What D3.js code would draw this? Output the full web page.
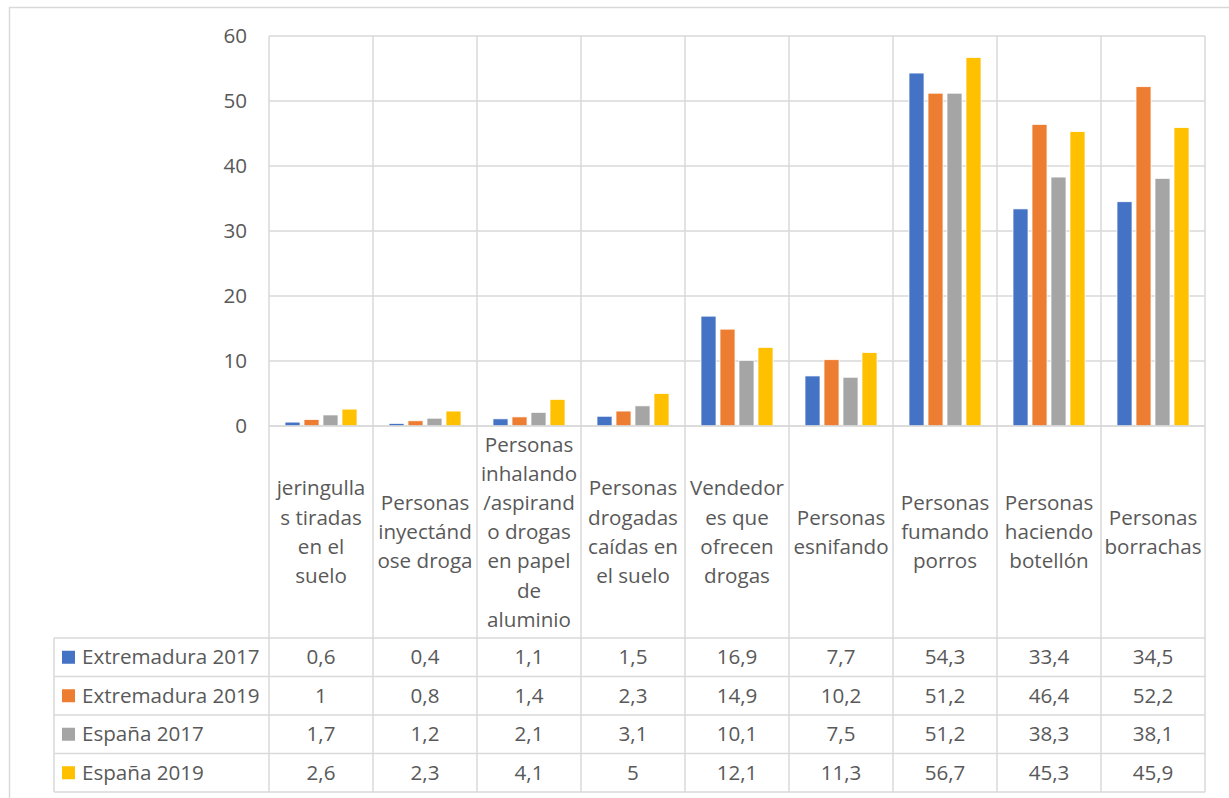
<!DOCTYPE html>
<html>
<head>
<meta charset="utf-8">
<script src="https://cdn.jsdelivr.net/npm/d3@7"></script>
<style>
  body { margin: 0; background: #fff; }
  svg { display: block; font-family: 'Open Sans', 'Noto Sans', sans-serif; }
</style>
</head>
<body>
<svg id="chart" width="1229" height="798"></svg>
<script>
// categories, as wrapped in the reference table header
const categoryLines = [
    ['jeringulla', 's tiradas', 'en el', 'suelo'],
    ['Personas', 'inyectánd', 'ose droga'],
    ['Personas', 'inhalando', '/aspirand', 'o drogas', 'en papel', 'de', 'aluminio'],
    ['Personas', 'drogadas', 'caídas en', 'el suelo'],
    ['Vendedor', 'es que', 'ofrecen', 'drogas'],
    ['Personas', 'esnifando'],
    ['Personas', 'fumando', 'porros'],
    ['Personas', 'haciendo', 'botellón'],
    ['Personas', 'borrachas']
]
const seriesNames = ['Extremadura 2017', 'Extremadura 2019', 'España 2017', 'España 2019']
const seriesColors = ['#4472C4', '#ED7D31', '#A5A5A5', '#FFC000']

const extremadura2017 = [0.6, 0.4, 1.1, 1.5, 16.9, 7.7, 54.3, 33.4, 34.5]
const extremadura2019 = [1, 0.8, 1.4, 2.3, 14.9, 10.2, 51.2, 46.4, 52.2]
const espana2017 = [1.7, 1.2, 2.1, 3.1, 10.1, 7.5, 51.2, 38.3, 38.1]
const espana2019 = [2.6, 2.3, 4.1, 5, 12.1, 11.3, 56.7, 45.3, 45.9]

const yTicks = [0, 10, 20, 30, 40, 50, 60]

const seriesValues = [extremadura2017, extremadura2019, espana2017, espana2019]

const svg = d3.select('#chart')
const grid = '#D9D9D9'
const textColor = '#595959'
const fontSize = '20.6px'

const plot = {left: 269, right: 1205, top: 36, bottom: 426}
const table = {left: 54, top: 638, rowH: 38.5}
const tableBottom = table.top + table.rowH * seriesNames.length

const esLocale = d3.formatLocale({decimal: ',', thousands: '.', grouping: [3], currency: ['', '€']})
const fmt = esLocale.format('~g')

const x = d3.scaleBand()
    .domain(d3.range(categoryLines.length))
    .range([plot.left, plot.right])

const xSeries = d3.scaleBand()
    .domain(d3.range(seriesNames.length))
    .range([16, x.bandwidth() - 16])
    .paddingInner(0.21)

const y = d3.scaleLinear()
    .domain([0, 60])
    .range([plot.bottom, plot.top])

// outer chart border
svg.append('rect')
    .attr('x', 9.5).attr('y', 7.5)
    .attr('width', 1240).attr('height', 820)
    .attr('fill', 'none')
    .attr('stroke', grid)
    .attr('stroke-width', 1.5)

// gridlines
svg.append('g')
    .selectAll('line')
    .data(yTicks)
    .join('line')
    .attr('x1', plot.left).attr('x2', plot.right)
    .attr('y1', d => y(d)).attr('y2', d => y(d))
    .attr('stroke', grid)
    .attr('stroke-width', 1.5)

// y axis labels
const yAxis = svg.append('g')
    .attr('transform', 'translate(' + (plot.left - 22) + ',0)')
    .call(d3.axisLeft(y).tickValues(yTicks).tickSize(0).tickPadding(0))
yAxis.select('.domain').remove()
yAxis.selectAll('text')
    .attr('fill', textColor)
    .style('font-size', fontSize)
    .style('font-family', "'Open Sans', sans-serif")

// vertical lines through plot, labels and table
svg.append('g')
    .selectAll('line')
    .data(d3.range(categoryLines.length + 1))
    .join('line')
    .attr('x1', i => plot.left + i * x.step())
    .attr('x2', i => plot.left + i * x.step())
    .attr('y1', plot.top).attr('y2', tableBottom)
    .attr('stroke', grid)
    .attr('stroke-width', 1.5)

// table horizontal lines
svg.append('g')
    .selectAll('line')
    .data(d3.range(seriesNames.length + 1))
    .join('line')
    .attr('x1', table.left).attr('x2', plot.right)
    .attr('y1', i => table.top + i * table.rowH)
    .attr('y2', i => table.top + i * table.rowH)
    .attr('stroke', grid)
    .attr('stroke-width', 1.5)

svg.append('line')
    .attr('x1', table.left).attr('x2', table.left)
    .attr('y1', table.top).attr('y2', tableBottom)
    .attr('stroke', grid)
    .attr('stroke-width', 1.5)

// bars
seriesValues.forEach((values, s) => {
    svg.append('g')
        .selectAll('rect')
        .data(values)
        .join('rect')
        .attr('x', (d, i) => x(i) + xSeries(s))
        .attr('y', d => y(d))
        .attr('width', xSeries.bandwidth())
        .attr('height', d => y(0) - y(d))
        .attr('fill', seriesColors[s])
        .attr('stroke', '#fff')
        .attr('stroke-width', 0.75)
})

// redraw zero line over bars
svg.append('line')
    .attr('x1', plot.left).attr('x2', plot.right)
    .attr('y1', y(0)).attr('y2', y(0))
    .attr('stroke', grid)
    .attr('stroke-width', 1.5)

// category labels
const labelMid = (plot.bottom + table.top) / 2
const lineH = 29.2
svg.append('g')
    .selectAll('text')
    .data(categoryLines)
    .join('text')
    .attr('text-anchor', 'middle')
    .attr('fill', textColor)
    .style('font-size', fontSize)
    .each(function(lines, i) {
        const t = d3.select(this)
        const y0 = labelMid - (lines.length - 1) * lineH / 2
        lines.forEach((ln, k) => {
            t.append('tspan')
                .attr('x', x(i) + x.bandwidth() / 2)
                .attr('y', y0 + k * lineH)
                .attr('dy', '0.35em')
                .text(ln)
        })
    })

// data table rows
seriesNames.forEach((name, s) => {
    const rowY = table.top + s * table.rowH + table.rowH / 2
    const row = svg.append('g')
    row.append('rect')
        .attr('x', 62).attr('y', rowY - 6.5)
        .attr('width', 13).attr('height', 13)
        .attr('fill', seriesColors[s])
    row.append('text')
        .attr('x', 82).attr('y', rowY)
        .attr('dy', '0.35em')
        .attr('fill', textColor)
        .style('font-size', fontSize)
        .text(name)
    row.selectAll('text.val')
        .data(seriesValues[s])
        .join('text')
        .attr('class', 'val')
        .attr('x', (d, i) => x(i) + x.bandwidth() / 2)
        .attr('y', rowY)
        .attr('dy', '0.35em')
        .attr('text-anchor', 'middle')
        .attr('fill', textColor)
        .style('font-size', fontSize)
        .text(d => fmt(d))
})
</script>
</body>
</html>
